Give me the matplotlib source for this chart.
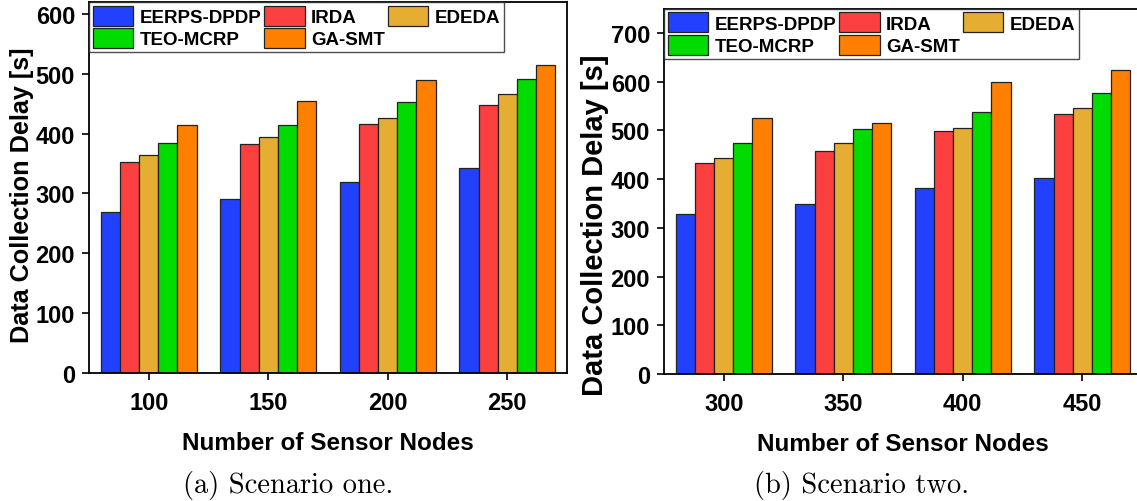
import numpy as np
import matplotlib.pyplot as plt

plt.rcParams['font.family'] = 'Liberation Sans'
plt.rcParams['font.weight'] = 'bold'

methods = ['EERPS-DPDP', 'IRDA', 'EDEDA', 'TEO-MCRP', 'GA-SMT']
colors  = ['#2241FF', '#FC4040', '#E5AE32', '#00DC00', '#FF8000']

nodes_a = [100, 150, 200, 250]
delay_a = [[269, 290, 320, 343],   # EERPS-DPDP
           [353, 382, 416, 448],   # IRDA
           [364, 394, 426, 466],   # EDEDA
           [385, 414, 453, 492],   # TEO-MCRP
           [414, 454, 490, 515]]   # GA-SMT

nodes_b = [300, 350, 400, 450]
delay_b = [[328, 350, 381, 403],
           [434, 457, 499, 534],
           [444, 475, 506, 547],
           [474, 504, 537, 577],
           [525, 515, 600, 625]]

W, H = 1137, 502
fig = plt.figure(figsize=(W/100, H/100), dpi=100)

def panel(rect, nodes, delays, xlim, ylim, yticks, caption, capx, ylab_fs, ylab_y):
    ax = fig.add_axes(rect)
    width = 8
    bars = []
    for i in range(len(methods)):
        x = np.array(nodes) + (i - 2) * width
        b = ax.bar(x, delays[i], width, color=colors[i], edgecolor='#222222',
                   linewidth=0.9, label=methods[i], zorder=2)
        bars.append(b)
    ax.set_xlim(*xlim)
    ax.set_ylim(*ylim)
    ax.set_xticks(nodes)
    ax.set_yticks(yticks)
    ax.tick_params(direction='out', length=5, width=1.2, labelsize=17, pad=5)
    ax.tick_params(axis='x', pad=8)
    for s in ax.spines.values():
        s.set_linewidth(1.3)
    ax.set_xlabel('Number of Sensor Nodes', fontsize=17.5, fontweight='bold', labelpad=12)
    ax.set_ylabel('Data Collection Delay [s]', fontsize=ylab_fs, fontweight='bold')
    ax.yaxis.set_label_coords(-0.115, ylab_y)
    # legend filled row by row (3 columns)
    order = [0, 3, 1, 4, 2]
    leg = ax.legend([bars[k] for k in order], [methods[k] for k in order],
                    loc='upper left', ncol=3, fontsize=13.5, frameon=True,
                    fancybox=False, edgecolor='#222222', borderaxespad=0.0,
                    handlelength=2.15, handleheight=1.25, columnspacing=0.15,
                    handletextpad=0.35, labelspacing=0.12, borderpad=0.2)
    leg.get_frame().set_linewidth(1.0)
    fig.text(capx, 0.004, caption, fontsize=20.5, ha='center', va='bottom',
             family='cmr10', fontweight='normal')
    return ax

panel([89/W, 0.255, 478/W, 0.739], nodes_a, delay_a, (75, 275), (0, 620),
      [0, 100, 200, 300, 400, 500, 600], '(a) Scenario one.', 288/W, 18.2, 0.482)
panel([664/W, 0.253, 478/W, 0.7277], nodes_b, delay_b, (275, 475), (0, 750),
      [0, 100, 200, 300, 400, 500, 600, 700], '(b) Scenario two.', 862/W, 21, 0.41)

fig.savefig('out.png', dpi=100)
